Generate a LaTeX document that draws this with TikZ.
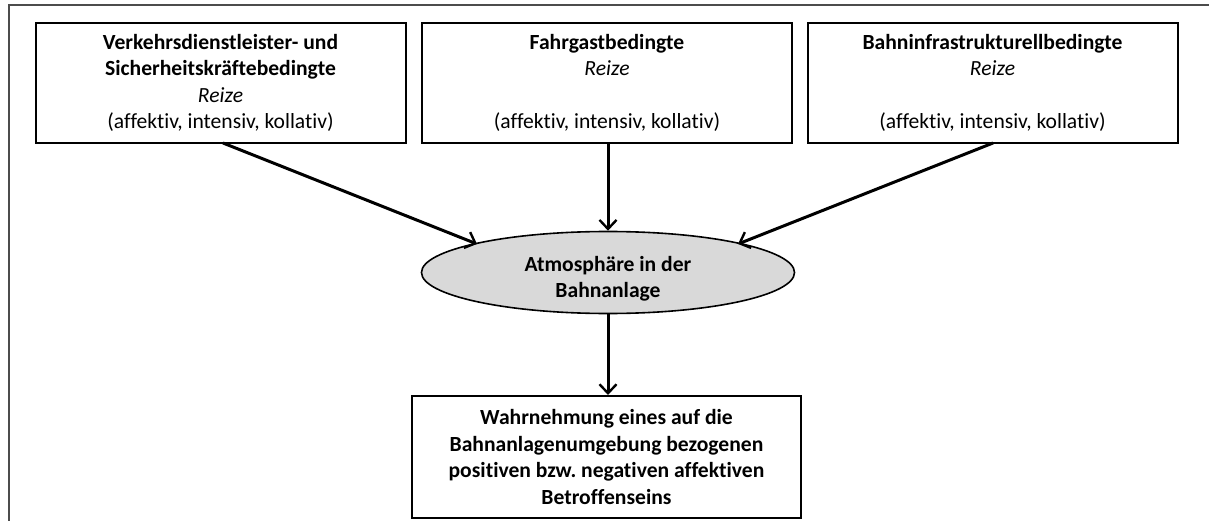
\documentclass[tikz,border=0pt]{standalone}
\usepackage{fontspec}
\setmainfont[Ligatures=NoCommon]{Carlito}
\usetikzlibrary{shapes.geometric,arrows.meta}
\begin{document}
\frenchspacing
\begin{tikzpicture}[x=1pt,y=-1pt,
  box/.style={draw=black,line width=2pt,minimum width=370pt,minimum height=120pt,inner sep=0pt,align=center,font=\fontsize{21.6}{26.5}\selectfont},
  oval/.style={ellipse,draw=black,line width=1.6pt,fill=gray!30,minimum width=373pt,minimum height=82pt,inner sep=0pt},
  ovaltext/.style={inner sep=0pt,align=center,font=\fontsize{21.6}{26.5}\selectfont\bfseries},
  arr/.style={line width=3pt,-{Straight Barb[length=9pt,width=17pt,line width=2.4pt]}},
  frame/.style={draw=black!70,line width=2pt}]
\useasboundingbox (0,0) rectangle (1209,521);
\fill[white] (0,0) rectangle (1209,521);
\coordinate (fa) at (9,521);
\coordinate (fb) at (9,5);
\coordinate (fc) at (1209,5);
\draw[frame] (fa) -- (fb) -- (fc);
\node[box] (b1) at (220.5,83) {\textbf{Verkehrsdienstleister- und}\\\textbf{Sicherheitskräftebedingte}\\\textit{Reize}\\(affektiv, intensiv, kollativ)};
\node[box] (b2) at (607,83) {\textbf{Fahrgastbedingte}\\\textit{Reize}\\[26.5pt](affektiv, intensiv, kollativ)};
\node[box] (b3) at (992.5,83) {\textbf{Bahninfrastrukturellbedingte}\\\textit{Reize}\\[26.5pt](affektiv, intensiv, kollativ)};
\node[oval] (el) at (608,272.5) {};
\node[ovaltext] (elt) at (608,279) {Atmosphäre in der\\Bahnanlage};
\node[box,minimum width=389pt,minimum height=122pt] (b4) at (606.5,457) {\textbf{Wahrnehmung eines auf die}\\\textbf{Bahnanlagenumgebung bezogenen}\\\textbf{positiven bzw. negativen affektiven}\\\textbf{Betroffenseins}};
\coordinate (s1) at (223,143);
\coordinate (e1) at (477,244);
\coordinate (s3) at (993,143);
\coordinate (e3) at (738,244);
\draw[arr] (s1) -- (e1);
\draw[arr] (s3) -- (e3);
\draw[arr] (b2.south -| el.north) -- (el.north);
\draw[arr] (el.south) -- (b4.north -| el.south);
\end{tikzpicture}
\end{document}
